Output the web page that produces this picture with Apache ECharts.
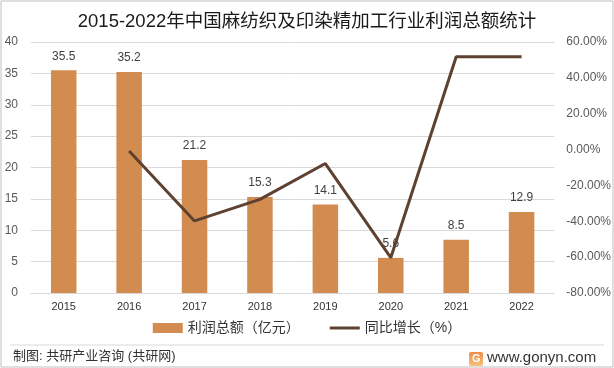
<!DOCTYPE html>
<html><head><meta charset="utf-8">
<script src="https://cdn.jsdelivr.net/npm/echarts@6/dist/echarts.min.js"></script>
<style>html,body{margin:0;padding:0;background:#fff}#c{width:614px;height:368px}</style>
</head><body><div id="c"></div>
<script>
const categories = ['2015','2016','2017','2018','2019','2020','2021','2022'];
const profit = [35.5, 35.2, 21.2, 15.3, 14.1, 5.6, 8.5, 12.9];
const growth = [null, -0.85, -39.8, -27.8, -7.8, -60.3, 51.8, 51.8];
const leftTicks = [0, 40, 5];
const rightTicks = [-80, 60, 20];

const FONT = '"Liberation Sans","Noto Sans CJK SC",sans-serif';
const chart = echarts.init(document.getElementById('c'), null, {renderer:'canvas'});
chart.setOption({
  animation:false,
  backgroundColor:'#fff',
  title:{text:'2015-2022年中国麻纺织及印染精加工行业利润总额统计',left:'center',top:8,
    textStyle:{fontFamily:FONT,fontSize:18.5,fontWeight:'normal',color:'#1a1a1a'}},
  grid:{left:31,right:57,top:42,bottom:75},
  legend:{bottom:28,left:'center',itemGap:30,itemWidth:30,itemHeight:10,
    textStyle:{fontFamily:FONT,fontSize:14,color:'#333'},
    data:[{name:'利润总额（亿元）',icon:'rect'},{name:'同比增长（%）',icon:'path://M0,0 L30,0 L30,3 L0,3 Z'}]},
  xAxis:{type:'category',data:categories,
    axisLine:{lineStyle:{color:'#d9d9d9'}},axisTick:{show:false},
    axisLabel:{fontFamily:FONT,fontSize:11,color:'#333',margin:8}},
  yAxis:[
    {type:'value',min:leftTicks[0],max:leftTicks[1],interval:leftTicks[2],
     splitLine:{lineStyle:{color:'#d9d9d9'}},axisLine:{show:false},axisTick:{show:false},
     axisLabel:{fontFamily:FONT,fontSize:12,color:'#595959',margin:13}},
    {type:'value',min:rightTicks[0],max:rightTicks[1],interval:rightTicks[2],
     splitLine:{show:false},axisLine:{show:false},axisTick:{show:false},
     axisLabel:{fontFamily:FONT,fontSize:12,color:'#595959',margin:12,
       formatter:v=>v.toFixed(2)+'%'}}
  ],
  series:[
    {name:'利润总额（亿元）',type:'bar',data:profit,barWidth:'39%',
     itemStyle:{color:'#D38C4F'},
     label:{show:true,position:'top',distance:8,fontFamily:FONT,fontSize:12,color:'#404040',
       formatter:p=>p.value.toFixed(1)}},
    {name:'同比增长（%）',type:'line',yAxisIndex:1,data:growth,symbol:'none',
     lineStyle:{color:'#5E4130',width:3},itemStyle:{color:'#5E4130'}}
  ],
  graphic:[
    {type:'rect',shape:{x:1,y:1,width:612,height:366},style:{fill:'none',stroke:'#bfbfbf',lineWidth:1}},
    {type:'line',shape:{x1:10,y1:345,x2:604,y2:345},style:{stroke:'#d9d9d9',lineWidth:1}},
    {type:'text',left:13,top:350,style:{text:'制图: 共研产业咨询 (共研网)',fontFamily:FONT,fontSize:13,fill:'#333'}},
    {type:'rect',shape:{x:469,y:352,width:14,height:14,r:2},style:{fill:new echarts.graphic.LinearGradient(0,0,0,1,[{offset:0,color:'#F08A4B'},{offset:1,color:'#F5C27A'}])}},
    {type:'text',left:472,top:353,style:{text:'G',fontFamily:FONT,fontSize:11,fontWeight:'bold',fill:'#fff'}},
    {type:'text',left:487,top:350,style:{text:'www.gonyn.com',fontFamily:FONT,fontSize:15,fill:'#333'}}
  ]
});
</script></body></html>
